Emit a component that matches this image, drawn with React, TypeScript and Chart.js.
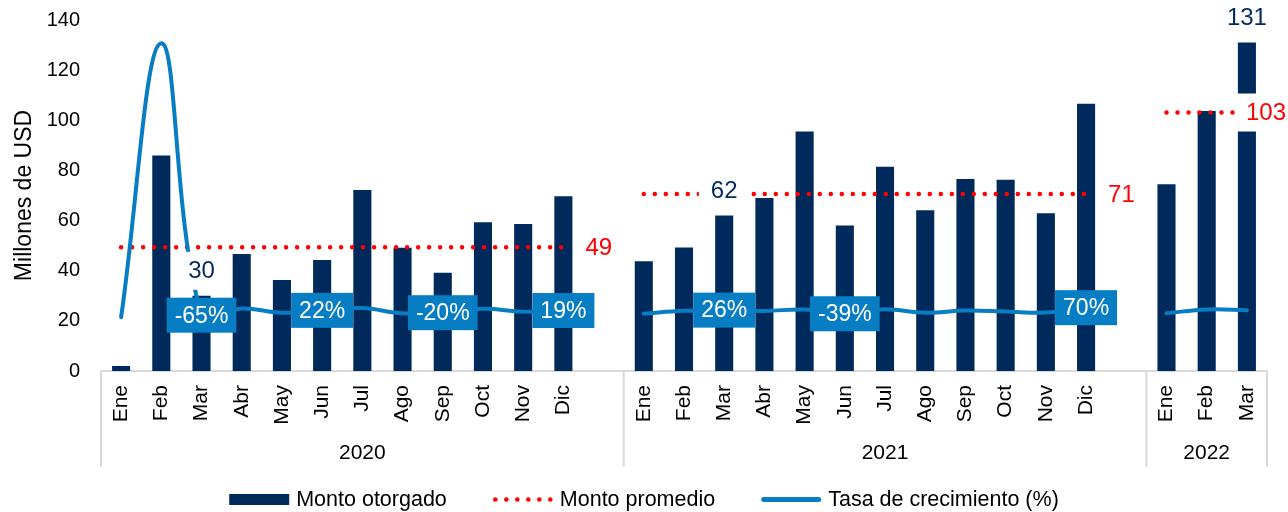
import React, { useEffect, useRef } from 'react';
import { Chart, registerables } from 'chart.js';

Chart.register(...registerables);

const FONT = "'Liberation Sans', Arial, sans-serif";
const NAVY = '#002A5C';
const BLUE = '#077DC3';
const RED = '#FF0000';
const GRAY = '#D9D9D9';

// Category slots (empty slot closes each year group)
const categories = [
  'Ene', 'Feb', 'Mar', 'Abr', 'May', 'Jun', 'Jul', 'Ago', 'Sep', 'Oct', 'Nov', 'Dic', '',
  'Ene', 'Feb', 'Mar', 'Abr', 'May', 'Jun', 'Jul', 'Ago', 'Sep', 'Oct', 'Nov', 'Dic', '',
  'Ene', 'Feb', 'Mar',
];
const years = ['2020', '2021', '2022'];
const yearSlotCounts = [13, 13, 3];

// Millones de USD
const montoOtorgado = [
  2, 86, 30, 46.7, 36.3, 44.3, 72.2, 49.2, 39.2, 59.3, 58.6, 69.7, null,
  43.8, 49.3, 62, 69, 95.5, 58, 81.5, 64.1, 76.6, 76.3, 62.9, 106.6, null,
  74.5, 103.7, 131,
];
const montoPromedio = [
  49.4, 49.4, 49.4, 49.4, 49.4, 49.4, 49.4, 49.4, 49.4, 49.4, 49.4, 49.4, null,
  70.6, 70.6, 70.6, 70.6, 70.6, 70.6, 70.6, 70.6, 70.6, 70.6, 70.6, 70.6, null,
  103.1, 103.1, 103.1,
];
// Tasa de crecimiento (%)
const tasaCrecimiento = [
  -100, 4815, -65, 56, -22, 22, 63, -32, -20, 51, -1, 19, null,
  -37, 13, 26, 11, 38, -39, 40, -21, 19, 0, -18, 70, null,
  -30, 39, 26,
];

const growthLabelIndex = [2, 5, 8, 11, 15, 18, 24];
const barLabelIndex = [2, 15, 28];
const avgLabelIndex = [11, 24, 28];
const legendLabels = ['Monto otorgado', 'Monto promedio', 'Tasa de crecimiento (%)'];
const yTicks = [0, 20, 40, 60, 80, 100, 120, 140];

const overlayPlugin = {
  id: 'overlay',
  afterDatasetsDraw(chart: any) {
    const { ctx, scales } = chart;
    const xs = scales.x;
    const ys = scales.y;
    const y1 = scales.y1;
    ctx.save();
    ctx.textBaseline = 'middle';
    ctx.textAlign = 'center';

    // bar value labels (white background)
    ctx.font = `24px ${FONT}`;
    barLabelIndex.forEach((i) => {
      const v = montoOtorgado[i];
      if (v == null) return;
      const t = String(Math.round(v));
      const cx = xs.getPixelForValue(i);
      const cy = ys.getPixelForValue(v) - 25;
      const w = ctx.measureText(t).width + 24;
      const h = 38;
      ctx.fillStyle = '#fff';
      ctx.fillRect(cx - w / 2, cy - h / 2, w, h);
      ctx.fillStyle = NAVY;
      ctx.fillText(t, cx, cy + 1);
    });

    // average labels
    ctx.textAlign = 'left';
    avgLabelIndex.forEach((i) => {
      const v = montoPromedio[i];
      if (v == null) return;
      const t = String(Math.round(v));
      const tw = ctx.measureText(t).width;
      const left = Math.min(xs.getPixelForValue(i) + 22, chart.width - tw - 2);
      const cy = ys.getPixelForValue(v);
      ctx.fillStyle = '#fff';
      ctx.fillRect(left - 10, cy - 19, tw + 20, 38);
      ctx.fillStyle = RED;
      ctx.fillText(t, left, cy + 1);
    });

    // growth labels (blue boxes)
    ctx.textAlign = 'center';
    ctx.font = `23px ${FONT}`;
    growthLabelIndex.forEach((i) => {
      const v = tasaCrecimiento[i];
      if (v == null) return;
      const t = `${Math.round(v)}%`;
      const cx = xs.getPixelForValue(i);
      const cy = y1.getPixelForValue(v);
      const w = ctx.measureText(t).width + 16;
      const h = 35;
      ctx.fillStyle = BLUE;
      ctx.fillRect(cx - w / 2, cy - h / 2, w, h);
      ctx.fillStyle = '#fff';
      ctx.fillText(t, cx, cy + 1);
    });
    ctx.restore();
  },
  afterDraw(chart: any) {
    const { ctx, scales, chartArea } = chart;
    const xs = scales.x;
    ctx.save();
    // year group separators and labels
    const slotW = (chartArea.right - chartArea.left) / categories.length;
    let start = 0;
    ctx.strokeStyle = GRAY;
    ctx.lineWidth = 2;
    ctx.fillStyle = '#000';
    ctx.font = `21px ${FONT}`;
    ctx.textAlign = 'center';
    ctx.textBaseline = 'middle';
    years.forEach((yr, k) => {
      const left = xs.getPixelForValue(start) - slotW / 2;
      const right = left + yearSlotCounts[k] * slotW;
      ctx.beginPath();
      ctx.moveTo(left, chartArea.bottom);
      ctx.lineTo(left, 467);
      if (k === years.length - 1) {
        ctx.moveTo(right, chartArea.bottom);
        ctx.lineTo(right, 467);
      }
      ctx.stroke();
      ctx.fillText(yr, (left + right) / 2, 453);
      start += yearSlotCounts[k];
    });

    // legend
    ctx.font = `21.5px ${FONT}`;
    ctx.textAlign = 'left';
    const sw = 60;
    const gap = 7;
    const spacing = 46;
    const widths = legendLabels.map((l) => ctx.measureText(l).width);
    const total = widths.reduce((a, b) => a + sw + gap + b, 0) + spacing * (legendLabels.length - 1);
    let x = chart.width / 2 - total / 2;
    const y = 499.5;
    legendLabels.forEach((l, k) => {
      if (k === 0) {
        ctx.fillStyle = NAVY;
        ctx.fillRect(x, y - 5.5, sw, 11);
      } else if (k === 1) {
        ctx.fillStyle = RED;
        for (let j = 0; j < 6; j++) {
          ctx.beginPath();
          ctx.arc(x + 2.5 + j * 11, y, 2.3, 0, Math.PI * 2);
          ctx.fill();
        }
      } else {
        ctx.strokeStyle = BLUE;
        ctx.lineWidth = 5;
        ctx.lineCap = 'round';
        ctx.beginPath();
        ctx.moveTo(x + 2.5, y);
        ctx.lineTo(x + sw - 2.5, y);
        ctx.stroke();
      }
      ctx.fillStyle = '#000';
      ctx.fillText(l, x + sw + gap, y + 1);
      x += sw + gap + widths[k] + spacing;
    });
    ctx.restore();
  },
};

export default function App() {
  const canvasRef = useRef<HTMLCanvasElement | null>(null);

  useEffect(() => {
    if (!canvasRef.current) return;
    const chart = new Chart(canvasRef.current, {
      type: 'bar',
      data: {
        labels: categories,
        datasets: [
          {
            type: 'line',
            label: legendLabels[2],
            data: tasaCrecimiento,
            yAxisID: 'y1',
            borderColor: BLUE,
            backgroundColor: BLUE,
            borderWidth: 4,
            borderCapStyle: 'round',
            tension: 0.4,
            pointRadius: 0,
            spanGaps: false,
            order: 1,
          } as any,
          {
            type: 'line',
            label: legendLabels[1],
            data: montoPromedio,
            yAxisID: 'y',
            borderColor: RED,
            backgroundColor: RED,
            borderWidth: 4.5,
            borderDash: [0, 11],
            borderCapStyle: 'round',
            pointRadius: 0,
            spanGaps: false,
            order: 2,
          } as any,
          {
            type: 'bar',
            label: legendLabels[0],
            data: montoOtorgado,
            yAxisID: 'y',
            backgroundColor: NAVY,
            borderWidth: 0,
            categoryPercentage: 1,
            barPercentage: 0.45,
            order: 3,
          } as any,
        ],
      },
      options: {
        responsive: false,
        animation: false,
        devicePixelRatio: 1,
        layout: { padding: { left: 0, right: 21, top: 20, bottom: 0 } },
        plugins: {
          legend: { display: false },
          tooltip: { enabled: false },
        },
        scales: {
          x: {
            offset: true,
            grid: { display: false, drawTicks: false },
            border: { display: true, color: GRAY, width: 2 },
            ticks: {
              autoSkip: false,
              maxRotation: 90,
              minRotation: 90,
              padding: 14,
              color: '#000',
              font: { family: FONT, size: 21 },
            },
            afterFit: (s: any) => {
              s.height = 141;
              s.paddingLeft = 0;
              s.paddingRight = 0;
            },
          },
          y: {
            min: 0,
            max: 140,
            afterBuildTicks: (s: any) => {
              s.ticks = yTicks.map((v) => ({ value: v }));
            },
            grid: { display: false, drawTicks: false },
            border: { display: false },
            ticks: {
              padding: 21,
              color: '#000',
              font: { family: FONT, size: 20 },
            },
            title: {
              display: true,
              text: 'Millones de USD',
              color: '#000',
              font: { family: FONT, size: 23, lineHeight: 1 },
              padding: { top: 13, bottom: 0 },
            },
            afterFit: (s: any) => {
              s.width = 101;
              s.paddingTop = 0;
              s.paddingBottom = 0;
            },
          },
          y1: {
            display: false,
            position: 'right',
            min: -1066.5,
            max: 5233.5,
            grid: { display: false },
          },
        },
      },
      plugins: [overlayPlugin],
    });
    return () => chart.destroy();
  }, []);

  return (
    <div style={{ position: 'absolute', left: 0, top: 0, width: 1288, height: 512, background: '#fff' }}>
      <canvas ref={canvasRef} width={1288} height={512} />
    </div>
  );
}
